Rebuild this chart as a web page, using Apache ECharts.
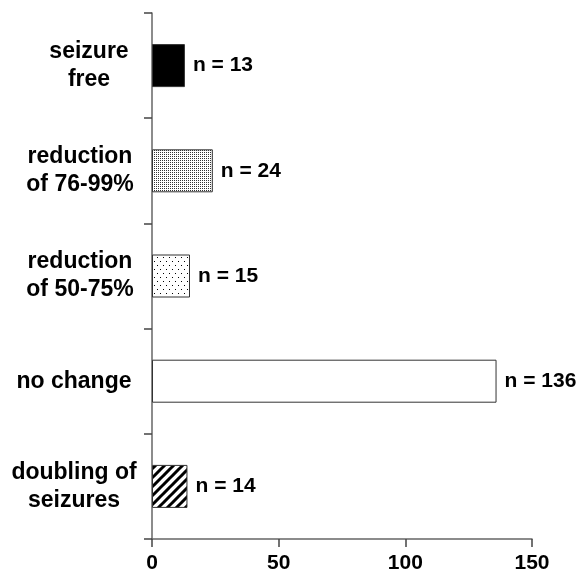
<!DOCTYPE html>
<html>
<head>
    <meta charset="utf-8">
    <title>seizure outcome</title>
    <script src="https://cdn.jsdelivr.net/npm/echarts@6/dist/echarts.min.js"></script>
    <style>
        html, body { margin: 0; padding: 0; background: #fff; }
        #chart { width: 578px; height: 574px; }
    </style>
</head>
<body>
<div id="chart"></div>
<script>
    // data
    var categories = ['seizure\nfree', 'reduction\nof 76-99%', 'reduction\nof 50-75%', 'no change', 'doubling of\nseizures'];
    var counts = [13, 24, 15, 136, 14];
    var xTicks = [0, 50, 100, 150];

    var FONT = '"Liberation Sans", Arial, Helvetica, sans-serif';

    // little canvas tiles for the bar fills
    function tile(w, h, draw) {
        var c = document.createElement('canvas');
        c.width = w; c.height = h;
        var ctx = c.getContext('2d');
        ctx.fillStyle = '#fff';
        ctx.fillRect(0, 0, w, h);
        draw(ctx);
        return { image: c, repeat: 'repeat' };
    }
    var denseDots = tile(2, 2, function (ctx) {
        ctx.fillStyle = '#333';
        ctx.fillRect(0, 0, 1, 1);
    });
    var sparseDots = tile(6, 8, function (ctx) {
        ctx.fillStyle = '#000';
        ctx.fillRect(1, 1, 1, 1);
        ctx.fillRect(4, 5, 1, 1);
    });
    var stripes = tile(9, 9, function (ctx) {
        ctx.strokeStyle = '#000';
        ctx.lineWidth = 3;
        ctx.beginPath();
        ctx.moveTo(-1, 10); ctx.lineTo(10, -1);
        ctx.moveTo(-10, 10); ctx.lineTo(1, -1);
        ctx.moveTo(8, 10); ctx.lineTo(19, -1);
        ctx.stroke();
    });
    var fills = ['#000', denseDots, sparseDots, '#fff', stripes];
    // small nudges so the two-line labels sit like the original
    var labelShift = [30, 12, 12, 0, 0];

    var rich = {};
    labelShift.forEach(function (p, i) {
        rich['c' + i] = {
            fontSize: 23, fontWeight: 'bold', fontFamily: FONT, color: '#000',
            lineHeight: 28, padding: [0, 0, 0, p]
        };
    });

    var chart = echarts.init(document.getElementById('chart'));
    chart.setOption({
        animation: false,
        grid: { left: 152, right: 46, top: 13, bottom: 35 },
        xAxis: {
            type: 'value',
            min: xTicks[0],
            max: xTicks[xTicks.length - 1],
            interval: 50,
            axisLine: { show: true, lineStyle: { color: '#666', width: 1.5 } },
            axisTick: { show: true, length: 8, lineStyle: { color: '#444', width: 1.5 } },
            splitLine: { show: false },
            axisLabel: {
                margin: 14, color: '#000', fontSize: 21, fontWeight: 'bold', fontFamily: FONT
            }
        },
        yAxis: {
            type: 'category',
            inverse: true,
            data: categories,
            axisLine: { show: true, lineStyle: { color: '#666', width: 1.5 } },
            axisTick: { show: true, length: 8, lineStyle: { color: '#444', width: 1.5 } },
            axisLabel: {
                align: 'center',
                margin: 78,
                formatter: function (v, i) {
                    return v.split('\n').map(function (l) {
                        return '{c' + i + '|' + l + '}';
                    }).join('\n');
                },
                rich: rich
            }
        },
        series: [{
            type: 'bar',
            barWidth: 43,
            data: counts.map(function (v, i) {
                return {
                    value: v,
                    itemStyle: { color: fills[i], borderColor: '#333', borderWidth: 1 }
                };
            }),
            label: {
                show: true,
                position: 'right',
                distance: 8,
                formatter: 'n = {c}',
                color: '#000',
                fontSize: 21,
                fontWeight: 'bold',
                fontFamily: FONT
            }
        }]
    });
</script>
</body>
</html>
